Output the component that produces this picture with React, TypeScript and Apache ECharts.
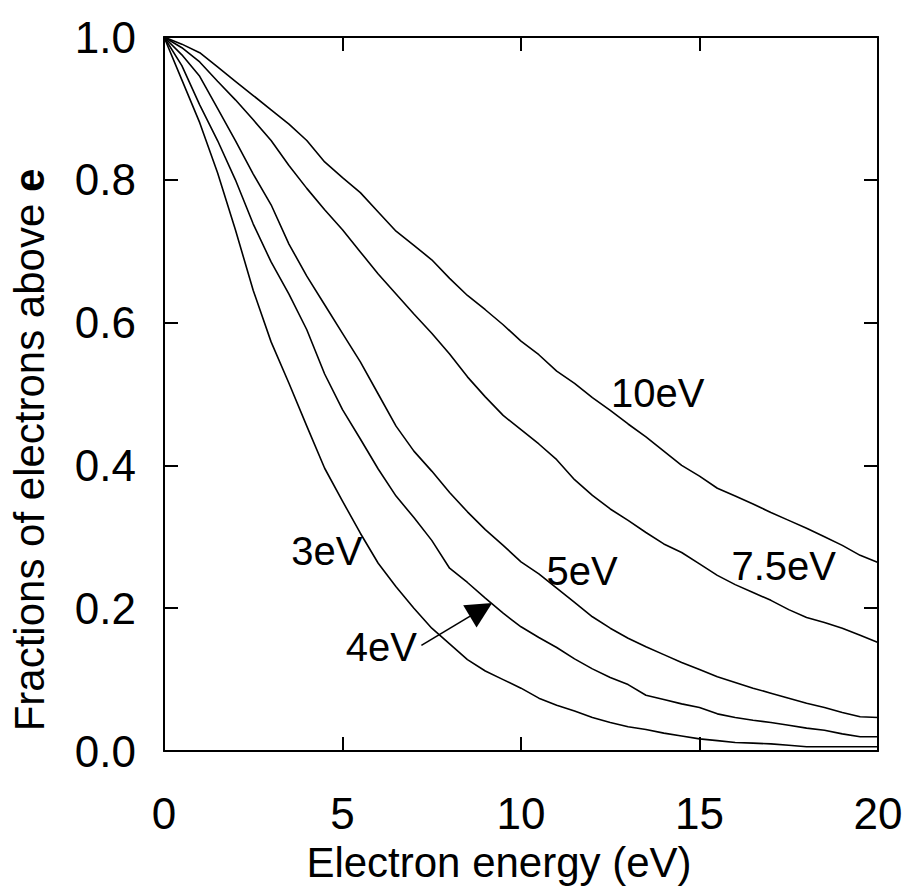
import React, { useEffect, useRef } from 'react';
import * as echarts from 'echarts';

const FONT = '"Liberation Sans", Arial, Helvetica, sans-serif';

// Electron energy (eV)
const energy = [
  0, 0.5, 1, 1.5, 2, 2.5, 3, 3.5, 4, 4.5, 5, 5.5, 6, 6.5, 7, 7.5, 8, 8.5, 9, 9.5,
  10, 10.5, 11, 11.5, 12, 12.5, 13, 13.5, 14, 14.5, 15, 15.5, 16, 16.5, 17, 17.5,
  18, 18.5, 19, 19.5, 20,
];

// Fraction of electrons above e, for each mean energy
const frac3eV = [
  1.0, 0.94, 0.88, 0.81, 0.73, 0.645, 0.573, 0.515, 0.455, 0.396,
  0.35, 0.305, 0.263, 0.23, 0.2, 0.172, 0.15, 0.128, 0.112, 0.1,
  0.088, 0.074, 0.064, 0.056, 0.047, 0.04, 0.034, 0.03, 0.025, 0.021,
  0.017, 0.0145, 0.012, 0.011, 0.01, 0.008, 0.006, 0.006, 0.006, 0.006,
  0.006,
];
const frac4eV = [
  1.0, 0.96, 0.905, 0.855, 0.8, 0.738, 0.685, 0.64, 0.59, 0.528,
  0.478, 0.437, 0.395, 0.357, 0.327, 0.295, 0.256, 0.236, 0.214, 0.193,
  0.174, 0.159, 0.145, 0.129, 0.115, 0.103, 0.093, 0.078, 0.072, 0.066,
  0.061, 0.052, 0.047, 0.043, 0.04, 0.036, 0.032, 0.029, 0.024, 0.02,
  0.02,
];
const frac5eV = [
  1.0, 0.975, 0.945, 0.9, 0.855, 0.808, 0.765, 0.71, 0.665, 0.625,
  0.585, 0.545, 0.5, 0.455, 0.42, 0.392, 0.362, 0.335, 0.31, 0.288,
  0.265, 0.248, 0.228, 0.208, 0.188, 0.172, 0.158, 0.146, 0.135, 0.124,
  0.114, 0.104, 0.096, 0.088, 0.081, 0.074, 0.067, 0.061, 0.054, 0.048,
  0.047,
];
const frac7p5eV = [
  1.0, 0.985, 0.965, 0.938, 0.912, 0.884, 0.855, 0.82, 0.788, 0.758,
  0.73, 0.699, 0.668, 0.64, 0.612, 0.585, 0.556, 0.524, 0.496, 0.47,
  0.45, 0.43, 0.408, 0.38, 0.358, 0.339, 0.323, 0.306, 0.29, 0.278,
  0.262, 0.246, 0.233, 0.222, 0.211, 0.198, 0.187, 0.18, 0.172, 0.162,
  0.152,
];
const frac10eV = [
  1.0, 0.99, 0.978, 0.958, 0.938, 0.918, 0.898, 0.878, 0.855, 0.825,
  0.803, 0.782, 0.755, 0.728, 0.708, 0.688, 0.662, 0.638, 0.618, 0.597,
  0.574, 0.555, 0.532, 0.515, 0.495, 0.477, 0.458, 0.44, 0.42, 0.4,
  0.385, 0.368, 0.357, 0.346, 0.334, 0.323, 0.312, 0.3, 0.288, 0.274,
  0.264,
];

const seriesNames = ['3eV', '4eV', '5eV', '7.5eV', '10eV'];
const seriesValues = [frac3eV, frac4eV, frac5eV, frac7p5eV, frac10eV];

const xTicks = ['0', '5', '10', '15', '20'];
const yTicks = ['0.0', '0.2', '0.4', '0.6', '0.8', '1.0'];

// label anchor (data coordinates) for each curve label
const labelAnchors: [number, number][] = [
  [4.56, 0.28],
  [6.09, 0.146],
  [11.71, 0.252],
  [17.36, 0.259],
  [13.83, 0.501],
];

const axisLineStyle = { color: '#000', width: 2 };

function frameAxis(extra: any) {
  return {
    type: 'value',
    axisLine: { show: true, onZero: false, lineStyle: axisLineStyle },
    axisTick: { show: true, inside: true, length: 14, lineStyle: axisLineStyle },
    splitLine: { show: false },
    ...extra,
  };
}

export default function App() {
  const ref = useRef<HTMLDivElement>(null);

  useEffect(() => {
    document.body.style.margin = '0';
    if (!ref.current) return;
    const chart = echarts.init(ref.current, undefined, { renderer: 'svg' });

    const series = seriesNames.map((name, i) => {
      const s: any = {
        name,
        type: 'line',
        xAxisIndex: 0,
        yAxisIndex: 0,
        data: energy.map((e, j) => [e, seriesValues[i][j]]),
        showSymbol: false,
        symbol: 'none',
        smooth: false,
        lineStyle: { color: '#000', width: 1.6 },
        markPoint: {
          silent: true,
          symbol: 'circle',
          symbolSize: 1,
          itemStyle: { color: 'rgba(0,0,0,0)' },
          label: {
            show: true,
            position: 'inside',
            formatter: name,
            fontSize: 40,
            color: '#000',
            fontFamily: FONT,
          },
          data: [{ coord: labelAnchors[i] }],
        },
      };
      if (name === '4eV') {
        s.markLine = {
          silent: true,
          symbol: ['none', 'triangle'],
          symbolSize: 26,
          label: { show: false },
          lineStyle: { color: '#000', width: 1.6, type: 'solid' },
          data: [[{ coord: [7.21, 0.148] }, { coord: [8.88, 0.198] }]],
        };
      }
      return s;
    });

    const option: any = {
      animation: false,
      backgroundColor: '#fff',
      textStyle: { fontFamily: FONT },
      grid: { left: 162, right: 37, top: 37, bottom: 144, containLabel: false },
      xAxis: [
        frameAxis({
          position: 'bottom',
          min: 0,
          max: 20,
          interval: 5,
          name: 'Electron energy (eV)',
          nameLocation: 'middle',
          nameGap: 90,
          nameTextStyle: { fontSize: 42, color: '#000', fontFamily: FONT, padding: [0, 44, 0, 0] },
          axisLabel: {
            show: true,
            fontSize: 44,
            color: '#000',
            fontFamily: FONT,
            margin: 40,
            formatter: (v: number) => xTicks[Math.round(v / 5)],
          },
        }),
        frameAxis({
          position: 'top',
          min: 0,
          max: 20,
          interval: 5,
          axisLabel: { show: false },
        }),
      ],
      yAxis: [
        frameAxis({
          position: 'left',
          min: 0,
          max: 1,
          interval: 0.2,
          name: '{a|Fractions of electrons above }{b|e}',
          nameLocation: 'middle',
          nameGap: 114,
          nameTextStyle: {
            color: '#000',
            padding: [0, 112, 0, 0],
            rich: {
              a: { fontSize: 42, fontFamily: FONT, color: '#000' },
              b: { fontSize: 42, fontFamily: FONT, fontWeight: 'bold', color: '#000' },
            },
          },
          axisLabel: {
            show: true,
            fontSize: 44,
            color: '#000',
            fontFamily: FONT,
            margin: 28,
            formatter: (v: number) => yTicks[Math.round(v / 0.2)],
          },
        }),
        frameAxis({
          position: 'right',
          min: 0,
          max: 1,
          interval: 0.2,
          axisLabel: { show: false },
        }),
      ],
      series,
    };

    chart.setOption(option);
    return () => chart.dispose();
  }, []);

  return <div ref={ref} style={{ width: 915, height: 895 }} />;
}
